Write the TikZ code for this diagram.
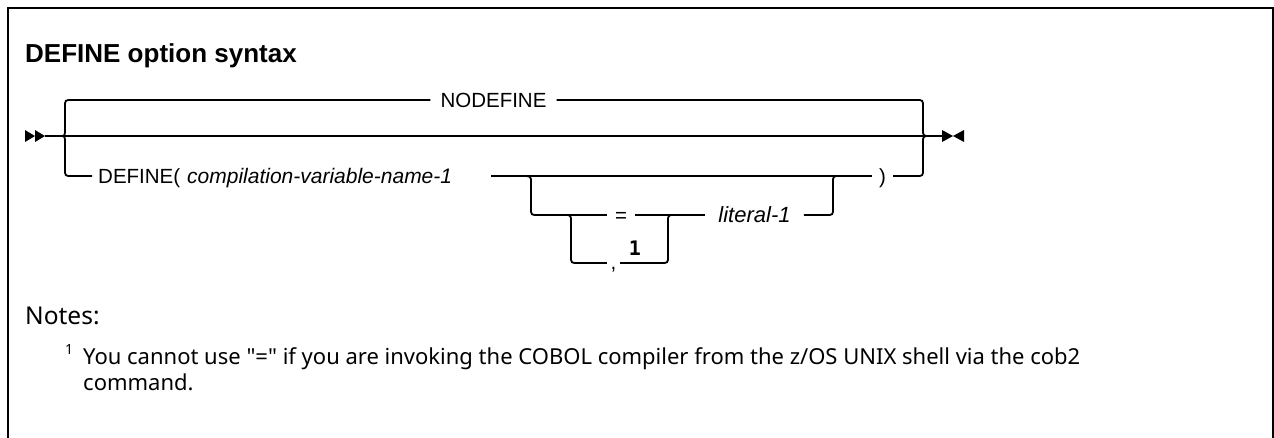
\documentclass[tikz,border=0pt]{standalone}
\usepackage{fontspec}
\setmainfont{Liberation Sans}
\newfontfamily\notefont{Noto Sans}
\newfontfamily\digitfont{DejaVu Sans Mono}
\begin{document}
\begin{tikzpicture}[x=1pt,y=-1pt,
  rail/.style={line width=1.8pt},
  lbl/.style={inner ysep=0pt, text height=14.7pt, text depth=0pt, font=\fontsize{20.5}{24}\selectfont},
  tipshape/.style={fill=black, draw=none},
  notetext/.style={anchor=base west, inner sep=0pt, font=\notefont\fontsize{22}{26}\selectfont},
]
\useasboundingbox (0,0) rectangle (1274,437);
\draw[line width=2pt] (8,7.5) rectangle (1273,480);

% title
\node[anchor=base west, inner sep=0pt, font=\fontsize{26}{31}\selectfont\bfseries] (title) at (25,62) {DEFINE option syntax};

% key coordinates
\coordinate (s) at (45,136);
\coordinate (jl) at (60,136);
\coordinate (jr) at (930,136);
\coordinate (e) at (942,136);
\coordinate (a1) at (491,176);
\coordinate (ob) at (522,176);
\coordinate (ib) at (564,215);
\coordinate (ij) at (675,215);
\coordinate (oj) at (840,176);

% start and end marks
\fill[tipshape] (25,130) -- (35,136) -- (25,142) -- cycle;
\fill[tipshape] (35,130) -- (45,136) -- (35,142) -- cycle;
\fill[tipshape] (942,130) -- (953,136) -- (942,142) -- cycle;
\fill[tipshape] (964,130) -- (953,136) -- (964,142) -- cycle;

% labels
\node[lbl, inner xsep=10pt] (nodef) at (493.5,100) {NODEFINE};
\node[lbl, inner xsep=6pt, anchor=west] (def) at (92,176) {DEFINE(\hspace{7pt}{\fontsize{21}{24}\selectfont\textit{compilation-variable-name-1}}};
\node[lbl, inner xsep=7pt] (rp) at (882.5,176) {)};
\node[lbl, inner xsep=8pt] (eq) at (621,215) {=};
\node[lbl, inner xsep=13pt, font=\fontsize{22}{26}\selectfont] (lit) at (754.5,215) {\textit{literal-1}};
\node[lbl, text height=12pt, inner xsep=3.5pt] (comma) at (613.5,263) {,};
\node[inner sep=0pt, font=\fontsize{20}{24}\digitfont\bfseries] (sup) at (635,248) {1};

% main line
\draw[rail] (s) -- (e);
% NODEFINE branch
\draw[rail] (jl) .. controls (65,136) .. (65,129) -- (65,107) .. controls (65,100) .. (72,100) -- (nodef.west);
\draw[rail] (nodef.east) -- (916,100) .. controls (923,100) .. (923,107) -- (923,129) .. controls (923,136) .. (jr);
% DEFINE branch
\draw[rail] (jl) .. controls (65,136) .. (65,143) -- (65,169) .. controls (65,176) .. (72,176) -- (def.west);
\draw[rail] (a1) -- (rp.west);
\draw[rail] (rp.east) -- (916,176) .. controls (923,176) .. (923,169) -- (923,143) .. controls (923,136) .. (jr);
% optional = / , literal
\draw[rail] (ob) .. controls (531,176) .. (531,183) -- (531,208) .. controls (531,215) .. (538,215) -- (eq.west);
\draw[rail] (eq.east) -- (lit.west);
\draw[rail] (lit.east) -- (826,215) .. controls (833,215) .. (833,208) -- (833,183) .. controls (833,176) .. (oj);
\draw[rail] (ib) .. controls (571,215) .. (571,222) -- (571,256) .. controls (571,263) .. (578,263) -- (comma.west);
\draw[rail] (comma.east) -- (661,263) .. controls (668,263) .. (668,256) -- (668,222) .. controls (668,215) .. (ij);

% notes
\node[anchor=base west, inner sep=0pt, font=\notefont\fontsize{24.5}{29}\selectfont] (notes) at (25,324) {Notes:};
\node[anchor=base west, inner sep=0pt, font=\notefont\fontsize{14}{16}\selectfont] (fnm) at (65,354) {1};
\node[notetext] (fn1) at (83,364) {You cannot use "=" if you are invoking the COBOL compiler from the z/OS UNIX shell via the cob2};
\node[notetext] (fn2) at (83,390) {command.};
\end{tikzpicture}
\end{document}
